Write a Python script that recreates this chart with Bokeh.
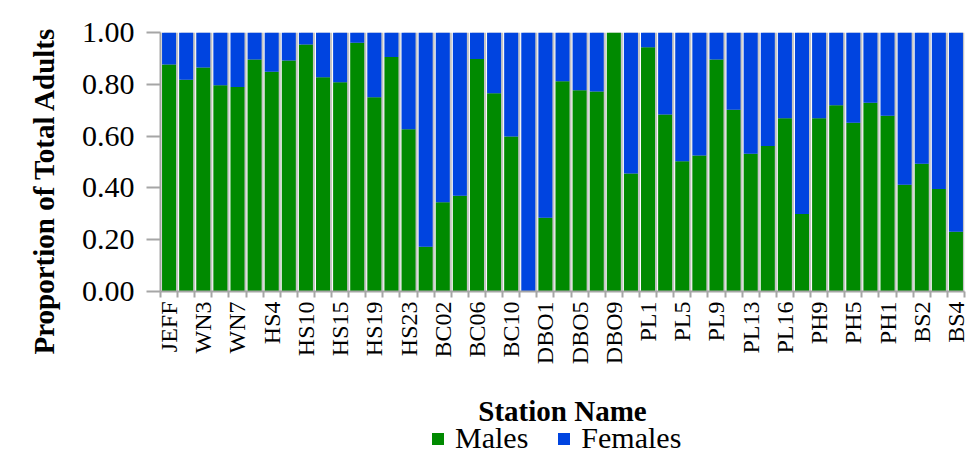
from math import pi

from bokeh.embed import file_html
from bokeh.layouts import column
from bokeh.models import (ColumnDataSource, FixedTicker, Label, Legend,
                          LegendItem, NumeralTickFormatter, Range1d, Title)
from bokeh.plotting import figure
from bokeh.resources import INLINE

# Stations labelled on the axis (every second station along the transect)
labeled_stations = ["JEFF", "WN3", "WN7", "HS4", "HS10", "HS15", "HS19", "HS23",
                    "BC02", "BC06", "BC10", "DBO1", "DBO5", "DBO9", "PL1", "PL5",
                    "PL9", "PL13", "PL16", "PH9", "PH5", "PH1", "BS2", "BS4"]

# Proportion of total adults that are males / females at each station
males = [0.876, 0.818, 0.865, 0.796, 0.790, 0.896, 0.848, 0.892, 0.954, 0.827,
         0.808, 0.960, 0.750, 0.905, 0.626, 0.173, 0.345, 0.370, 0.898, 0.765,
         0.598, 0.000, 0.285, 0.812, 0.777, 0.772, 1.000, 0.456, 0.943, 0.683,
         0.503, 0.525, 0.896, 0.702, 0.532, 0.562, 0.669, 0.299, 0.669, 0.719,
         0.652, 0.729, 0.679, 0.412, 0.493, 0.396, 0.231]
females = [0.124, 0.182, 0.135, 0.204, 0.210, 0.104, 0.152, 0.108, 0.046, 0.173,
           0.192, 0.040, 0.250, 0.095, 0.374, 0.827, 0.655, 0.630, 0.102, 0.235,
           0.402, 1.000, 0.715, 0.188, 0.223, 0.228, 0.000, 0.544, 0.057, 0.317,
           0.497, 0.475, 0.104, 0.298, 0.468, 0.438, 0.331, 0.701, 0.331, 0.281,
           0.348, 0.271, 0.321, 0.588, 0.507, 0.604, 0.769]

y_ticks = [0.0, 0.2, 0.4, 0.6, 0.8, 1.0]

GREEN = "#008a00"
BLUE = "#0044e0"
AXIS_GRAY = "#a6a6a6"
FONT = "Liberation Serif"

n = len(males)
pos = list(range(1, n + 1))
label_pos = pos[::2]
bar_w = 0.82

src = ColumnDataSource(dict(x=pos, males=males, females=females,
                            shadow_x=[x + 0.12 for x in pos]))

# ---- main chart -----------------------------------------------------------
p = figure(width=969, height=384,
           x_range=Range1d(0.5, n + 0.5), y_range=Range1d(0, 1),
           output_backend="svg", toolbar_location=None,
           min_border_left=160, min_border_right=5,
           min_border_top=32, min_border_bottom=93)
p.outline_line_color = None
p.xgrid.visible = False
p.ygrid.visible = False

# soft drop shadow on the right side of each column
p.vbar(x="shadow_x", width=bar_w, bottom=0, top=1, source=src,
       fill_color="#c4c4c4", line_color=None)

p.vbar_stack(["males", "females"], x="x", width=bar_w, source=src,
             color=[GREEN, BLUE], line_color=None)

ya = p.yaxis[0]
ya.ticker = FixedTicker(ticks=y_ticks)
ya.formatter = NumeralTickFormatter(format="0.00")
ya.major_label_text_font = FONT
ya.major_label_text_font_size = "30px"
ya.major_label_text_color = "black"
ya.major_tick_out = 14
ya.major_tick_in = 0
ya.major_tick_line_color = AXIS_GRAY
ya.major_tick_line_width = 2
ya.minor_tick_line_color = None
ya.axis_line_color = AXIS_GRAY
ya.axis_line_width = 2
ya.major_label_standoff = 12

# ticks at column boundaries, station names under every second column
xa = p.xaxis[0]
xa.ticker = FixedTicker(ticks=label_pos,
                        minor_ticks=[x - 0.5 for x in pos] + [n + 0.5])
xa.major_label_overrides = {k: s for k, s in zip(label_pos, labeled_stations)}
xa.major_label_orientation = pi / 2
xa.major_label_text_font = FONT
xa.major_label_text_font_size = "24px"
xa.major_label_text_color = "black"
xa.major_label_standoff = 4
xa.major_tick_line_color = None
xa.minor_tick_line_color = AXIS_GRAY
xa.minor_tick_line_width = 2
xa.minor_tick_out = 6
xa.minor_tick_in = 0
xa.axis_line_color = AXIS_GRAY
xa.axis_line_width = 2

# y axis title, anchored at the frame bottom and pulled down along the axis
p.add_layout(Title(text="Proportion of Total Adults", align="left", offset=-63,
                   standoff=38, text_font=FONT, text_font_size="29px",
                   text_font_style="bold", text_color="black"), "left")

# ---- x-axis title and legend strip (frame lines up with the chart's frame) --
foot = figure(width=969, height=70, x_range=Range1d(48, 49),
              y_range=Range1d(2, 3), output_backend="svg",
              toolbar_location=None, min_border_left=0, min_border_right=0,
              min_border_top=0, min_border_bottom=0)
foot.outline_line_color = None
foot.axis.visible = False
foot.grid.visible = False

foot.add_layout(Label(x=402, y=44, x_units="screen", y_units="screen",
                      text="Station Name", text_align="center",
                      text_baseline="alphabetic",
                      text_font=FONT, text_font_size="29px",
                      text_font_style="bold", text_color="black"))

# legend swatches take their look from these (off-range) stacked bars
lg_r = foot.vbar_stack(["males", "females"], x="x", width=bar_w, source=src,
                       color=[GREEN, BLUE], line_color=None)
legend = Legend(items=[LegendItem(label="Males", renderers=[lg_r[0]]),
                       LegendItem(label="Females", renderers=[lg_r[1]])],
                orientation="horizontal", location=(270, -1),
                label_text_font=FONT, label_text_font_size="30px",
                label_text_color="black",
                glyph_width=15, glyph_height=15, label_standoff=10,
                spacing=28, padding=0, margin=0,
                border_line_color=None, background_fill_alpha=0)
foot.add_layout(legend)

layout = column(p, foot, spacing=0)
open("out.html", "w").write(file_html(layout, INLINE))
